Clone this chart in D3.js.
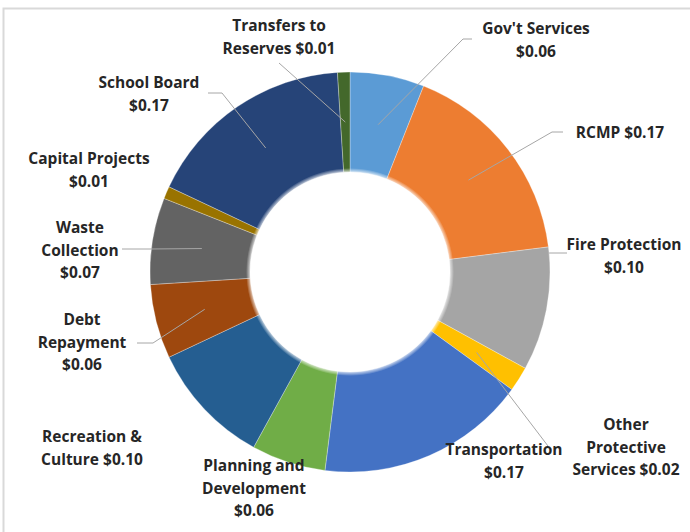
<!DOCTYPE html>
<html>
<head>
<meta charset="utf-8">
<script src="https://cdn.jsdelivr.net/npm/d3@7"></script>
<style>
  html, body { margin: 0; padding: 0; background: #ffffff; }
  svg { display: block; }
</style>
</head>
<body>
<svg id="chart" width="690" height="532"></svg>
<script>
// ---- data ----
const categories = [
  "Gov't Services", "RCMP", "Fire Protection", "Other Protective Services",
  "Transportation", "Planning and Development", "Recreation & Culture",
  "Debt Repayment", "Waste Collection", "Capital Projects", "School Board",
  "Transfers to Reserves"
];
const values = [0.06, 0.17, 0.10, 0.02, 0.17, 0.06, 0.10, 0.06, 0.07, 0.01, 0.17, 0.01];
// label text lines (value substituted for {v})
const labelLines = [
  ["Gov't Services", "{v}"],
  ["RCMP {v}"],
  ["Fire Protection", "{v}"],
  ["Other", "Protective", "Services {v}"],
  ["Transportation", "{v}"],
  ["Planning and", "Development", "{v}"],
  ["Recreation &", "Culture {v}"],
  ["Debt", "Repayment", "{v}"],
  ["Waste", "Collection", "{v}"],
  ["Capital Projects", "{v}"],
  ["School Board", "{v}"],
  ["Transfers to", "Reserves {v}"]
];

// ---- styles / layout ----
const colors = ["#5B9BD5", "#ED7D31", "#A5A5A5", "#FFC000", "#4472C4", "#70AD47",
                "#255E91", "#9E480E", "#636363", "#997300", "#264478", "#43682B"];
// label anchor: center x, first-line center y
const labelPos = [
  [536, 29], [620, 133], [624, 245], [626, 425], [504, 450], [254, 466],
  [92, 437], [82, 320], [80, 228], [89, 159], [149, 83], [279, 26]
];
// leader: start points; "c" = go to slice centroid, "edge" = horizontal to outer rim
const leaders = [
  {pts: [[472, 39], [463, 39]], end: "c"},
  {pts: [[563, 132], [552, 132]], end: "c"},
  {pts: [[567, 253]], end: "edge"},
  {pts: [[548, 446]], end: "c"},
  null, null, null,
  {pts: [[137, 343], [153, 343]], end: "c"},
  {pts: [[122, 249], [150, 249]], end: "c"},
  null,
  {pts: [[208, 93], [222, 93]], end: "c"},
  {pts: [[279, 63]], end: "c"}
];
const cx = 350, cy = 272, R = 200, r = 100;
const lineGap = 22.5;

const svg = d3.select("#chart");

// frame
svg.append("rect")
  .attr("x", 3.5).attr("y", 8.5).attr("width", 760).attr("height", 600)
  .attr("fill", "none").attr("stroke", "#d9d9d9").attr("stroke-width", 2);

const g = svg.append("g").attr("transform", `translate(${cx},${cy})`);

const pie = d3.pie().value(d => d).sort(null);
const arcs = pie(values);
const arc = d3.arc().innerRadius(r).outerRadius(R);

g.selectAll("path.slice")
  .data(arcs)
  .join("path")
  .attr("class", "slice")
  .attr("d", arc)
  .attr("fill", (d, i) => colors[i])
  .attr("stroke", "#ffffff")
  .attr("stroke-opacity", 0.5)
  .attr("stroke-width", 0.6);

// soft inner glow
const defs = svg.append("defs");
const grad = defs.append("radialGradient")
  .attr("id", "innerGlow").attr("gradientUnits", "userSpaceOnUse")
  .attr("cx", 0).attr("cy", 0).attr("r", 104);
grad.append("stop").attr("offset", 0).attr("stop-color", "#fff").attr("stop-opacity", 1);
grad.append("stop").attr("offset", 100 / 104).attr("stop-color", "#fff").attr("stop-opacity", 0.7);
grad.append("stop").attr("offset", 1).attr("stop-color", "#fff").attr("stop-opacity", 0);
g.append("circle").attr("r", 104).attr("fill", "url(#innerGlow)");

// leader lines
const fmt = d3.format("$.2f");
arcs.forEach((a, i) => {
  const L = leaders[i];
  if (!L) return;
  const pts = L.pts.map(p => [p[0] - cx, p[1] - cy]);
  if (L.end === "c") {
    pts.push(arc.centroid(a));
  } else {
    const y = pts[pts.length - 1][1];
    pts.push([Math.sqrt(R * R - y * y), y]);
  }
  g.append("path")
    .attr("d", d3.line()(pts))
    .attr("fill", "none")
    .attr("stroke", "#a6a6a6")
    .attr("stroke-width", 1);
});

// labels
const lab = svg.append("g")
  .attr("font-family", "'Open Sans', Lato, sans-serif")
  .attr("font-weight", "bold")
  .attr("font-size", "15.5px")
  .attr("fill", "#262626")
  .attr("text-anchor", "middle");

arcs.forEach((a, i) => {
  const lines = labelLines[i].map(s => s.replace("{v}", fmt(values[i])));
  const t = lab.append("text");
  lines.forEach((s, k) => {
    t.append("tspan")
      .attr("x", labelPos[i][0])
      .attr("y", labelPos[i][1] + k * lineGap)
      .attr("dy", "0.35em")
      .text(s);
  });
});
</script>
</body>
</html>
